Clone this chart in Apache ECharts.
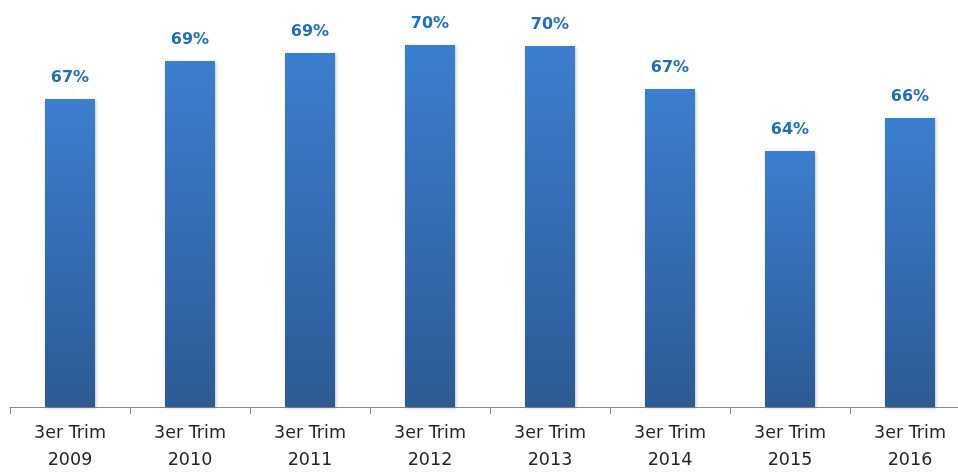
<!DOCTYPE html>
<html>
<head>
<meta charset="utf-8">
<script src="https://cdn.jsdelivr.net/npm/echarts@6/dist/echarts.min.js"></script>
<style>
html,body{margin:0;padding:0;background:#fff;overflow:hidden;}
#chart{width:970px;height:473px;}
</style>
</head>
<body>
<div id="chart"></div>
<script>
// Quarterly share (%) for the third quarter of each year
const categories = ['3er Trim\n2009','3er Trim\n2010','3er Trim\n2011','3er Trim\n2012','3er Trim\n2013','3er Trim\n2014','3er Trim\n2015','3er Trim\n2016'];
const values = [66.83, 68.91, 69.34, 69.78, 69.73, 67.38, 63.99, 65.79];

const chart = echarts.init(document.getElementById('chart'));
chart.setOption({
  animation: false,
  grid: { left: 10, top: 41, width: 960, height: 366, containLabel: false, outerBoundsMode: 'none' },
  xAxis: {
    type: 'category',
    data: categories,
    axisLine: { lineStyle: { color: '#8c8c8c', width: 1 } },
    axisTick: { show: true, length: 7, lineStyle: { color: '#8c8c8c' } },
    axisLabel: {
      color: '#262626',
      fontFamily: 'DejaVu Sans',
      fontSize: 17.5,
      lineHeight: 27,
      margin: 13
    }
  },
  yAxis: {
    type: 'value',
    min: 50,
    max: 70,
    show: false,
    splitLine: { show: false }
  },
  series: [{
    type: 'bar',
    data: values,
    barWidth: 50,
    itemStyle: {
      color: new echarts.graphic.LinearGradient(0, 0, 0, 1, [
        { offset: 0, color: '#3c7ecf' },
        { offset: 1, color: '#2c5a94' }
      ]),
      shadowColor: 'rgba(0,0,0,0.25)',
      shadowBlur: 3,
      shadowOffsetX: 1,
      shadowOffsetY: 1
    },
    label: {
      show: true,
      position: 'top',
      distance: 13,
      color: '#1f70c1',
      fontFamily: 'DejaVu Sans',
      fontWeight: 'bold',
      fontSize: 16,
      formatter: p => Math.round(p.value) + '%'
    }
  }]
});
</script>
</body>
</html>
